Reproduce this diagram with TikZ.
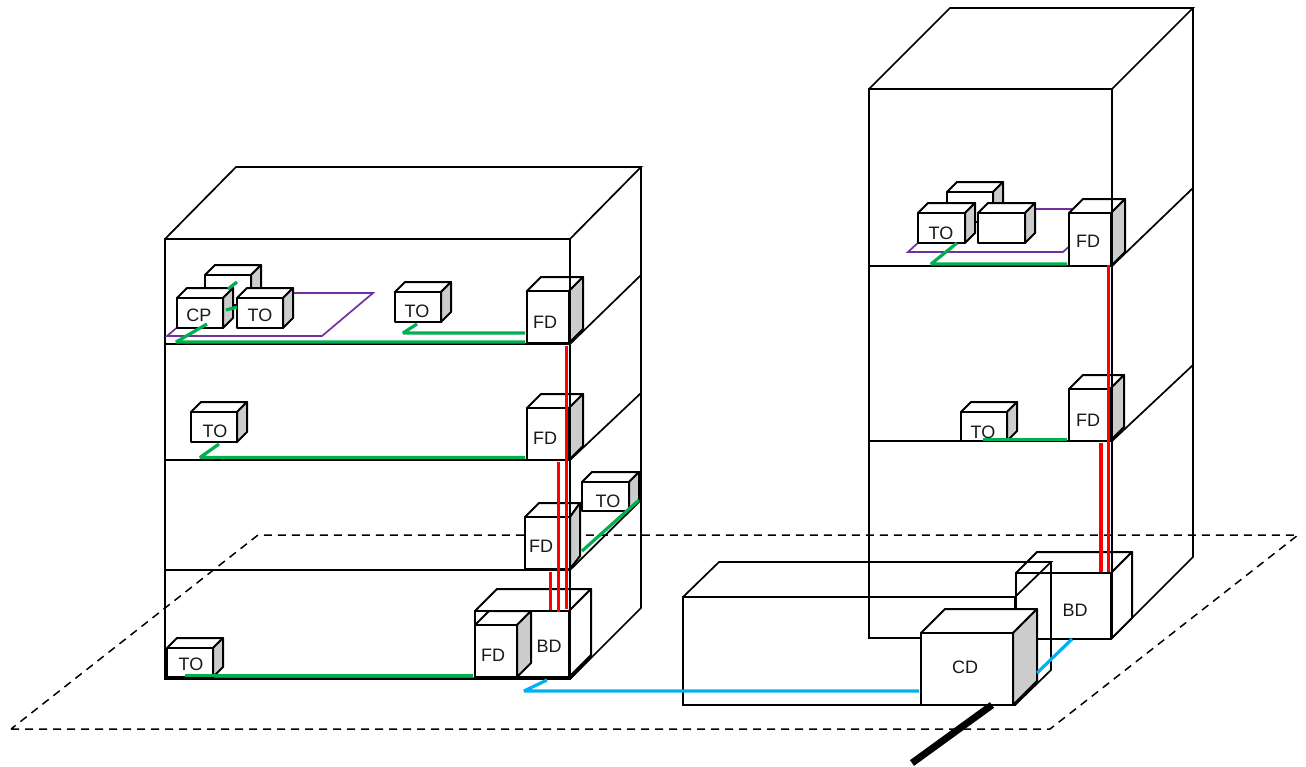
\documentclass[tikz,border=0pt]{standalone}
\usepackage{fontspec}
\setmainfont{Liberation Sans}
\definecolor{gr}{HTML}{00B050}
\definecolor{bl}{HTML}{00B0F0}
\definecolor{pu}{HTML}{7030A0}
\definecolor{sh}{HTML}{CCCCCC}
\tikzset{
 wall/.style={draw=black,line width=1.7pt,line join=miter},
 boxline/.style={draw=black,line width=2pt,line join=round},
 greenline/.style={draw=gr,line width=3.2pt,line join=bevel},
 blueline/.style={draw=bl,line width=3.2pt,line join=bevel},
 redline/.style={draw=red,line width=3.4pt},
 purpleline/.style={draw=pu,line width=1.7pt},
 floorline/.style={draw=black,line width=1.5pt,dash pattern=on 8pt off 6pt},
 lbl/.style={inner sep=0pt,font=\fontsize{18}{21}\selectfont,text=black!90}
}
% name, x, y, w, h, d, side fill, label x, label y, label
\newcommand{\cuboid}[9]{%
 \filldraw[boxline,fill=white] (#2,#3) -- ++(#6,-#6) -- ++(#4,0) -- ++(-#6,#6) -- cycle;
 \filldraw[boxline,fill=#7] (#2+#4,#3) -- ++(#6,-#6) -- ++(0,#5) -- ++(-#6,#6) -- cycle;
 \filldraw[boxline,fill=white] (#2,#3) rectangle ++(#4,#5);
 \coordinate (#1) at (#2+#4*0.5,#3+#5*0.5);
 \node[lbl] (#1t) at (#8,#9) {\cubelabel};
}
\newcommand{\cubelabel}{}
\newcommand{\lab}[1]{\renewcommand{\cubelabel}{#1}}
\begin{document}
\begin{tikzpicture}[x=1pt,y=-1pt]
\useasboundingbox (0,0) rectangle (1306,766);
% ground
\draw[floorline] (11,729) -- (1050,729) -- (1298,535) -- (258,535) -- cycle;
% left building
\draw[wall] (165,239) rectangle (570,679);
\draw[wall] (165,239) -- (236,167) -- (641,167) -- (570,239);
\draw[wall] (641,167) -- (641,608) -- (570,679);
\draw[wall] (165,344) -- (570,344) -- (641,275);
\draw[wall] (165,460) -- (570,460) -- (641,393);
\draw[wall] (165,570) -- (570,570) -- (641,500);
% right building
\draw[wall] (869,89) rectangle (1112,638);
\draw[wall] (869,89) -- (950,8) -- (1193,8) -- (1112,89);
\draw[wall] (1193,8) -- (1193,557) -- (1112,638);
\draw[wall] (869,266) -- (1112,266) -- (1193,188);
\draw[wall] (869,441) -- (1112,441) -- (1193,365);
% purple work areas
\draw[purpleline] (167,336) -- (322,336) -- (373,293) -- (218,293) -- cycle;
\draw[purpleline] (908,252) -- (1063,252) -- (1110,209) -- (955,209) -- cycle;
% left cubes
\lab{}\cuboid{a1}{205}{275}{46}{30}{10}{sh}{228}{290}
\lab{CP}\cuboid{a2}{177}{298}{46}{30}{10}{sh}{199}{315}
\lab{TO}\cuboid{a3}{237}{298}{46}{30}{10}{sh}{260}{315}
\lab{TO}\cuboid{a4}{395}{292}{46}{30}{10}{sh}{417}{311}
\lab{TO}\cuboid{a5}{191}{412}{46}{30}{10}{sh}{215}{431}
\lab{TO}\cuboid{a6}{167}{648}{46}{29}{10}{sh}{191}{664}
\lab{TO}\cuboid{a7}{582}{482}{47}{29}{10}{sh}{608}{501}
\lab{FD}\cuboid{f1}{527}{291}{42}{52}{14}{sh}{545}{322}
\lab{FD}\cuboid{f2}{527}{408}{42}{52}{14}{sh}{545}{438}
% third floor FD, slightly skewed
\filldraw[boxline,fill=white] (525,517) -- (539,503) -- (580,503) -- (570,517) -- cycle;
\filldraw[boxline,fill=sh] (570,517) -- (580,503) -- (580,556) -- (570,569) -- cycle;
\filldraw[boxline,fill=white] (525,517) rectangle (570,569);
\node[lbl] (f3t) at (541,546) {FD};
% left BD + FD
\lab{BD}\cuboid{b1}{475}{611}{94}{66}{22}{white}{549}{646}
\lab{FD}\cuboid{f4}{475}{625}{42}{52}{14}{sh}{493}{655}
% right cubes
\lab{}\cuboid{c1}{947}{192}{46}{30}{10}{sh}{970}{207}
\lab{TO}\cuboid{c2}{918}{213}{47}{30}{10}{sh}{941}{233}
\lab{}\cuboid{c3}{978}{213}{47}{30}{10}{sh}{1001}{228}
\lab{FD}\cuboid{f5}{1069}{213}{42}{53}{14}{sh}{1088}{241}
\lab{TO}\cuboid{c4}{961}{412}{46}{29}{10}{sh}{983}{432}
\lab{FD}\cuboid{f6}{1069}{389}{41}{52}{14}{sh}{1088}{420}
\lab{BD}\cuboid{b2}{1016}{573}{95}{66}{21}{white}{1075}{610}
% front edges of the buildings run over the cubes
\draw[wall] (570,239) -- (570,679);
\draw[wall] (1112,89) -- (1112,638);
\draw[boxline,line width=2.4pt] (165,678.5) -- (570,678.5) -- (592,656);
% low building
\draw[wall] (683,597) rectangle (1015,705);
\draw[wall] (683,597) -- (719,562) -- (1051,562) -- (1015,597);
\draw[wall] (1051,562) -- (1051,670) -- (1015,705);
% CD
\lab{CD}\cuboid{cd}{921}{633}{92}{72}{24}{sh}{965}{667}
% green cabling
\draw[greenline] (207,324) -- (176,342) -- (525,342);
\draw[greenline] (417,324) -- (403,333) -- (525,333);
\draw[greenline] (228,289) -- (237,282);
\draw[greenline] (226,310) -- (237,307);
\draw[greenline] (219,444) -- (200,457.5) -- (525,457.5);
\draw[greenline] (582,551) -- (639,500);
\draw[greenline] (185,675.5) -- (473,675.5);
\draw[greenline] (957,243) -- (931,264) -- (1067,264);
\draw[greenline] (983,439.5) -- (1067,439.5);
% red risers
\draw[redline] (566.7,346) -- (566.7,609);
\draw[redline] (558.7,462) -- (558.7,612);
\draw[redline] (550.3,572) -- (550.3,610);
\draw[redline] (1108.5,265) -- (1108.5,572);
\draw[redline] (1101,443) -- (1101,572);
% blue cabling
\draw[blueline] (547,680) -- (524,691) -- (919,691);
\draw[blueline] (1072,639) -- (1037,673);
% incoming cable
\draw[draw=black,line width=7pt] (992,705) -- (912,763);
\end{tikzpicture}
\end{document}
